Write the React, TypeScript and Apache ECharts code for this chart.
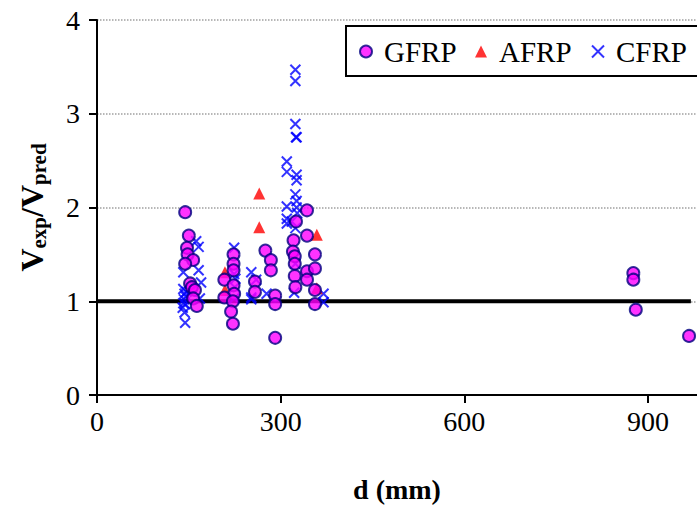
import { useEffect, useRef } from 'react';
import * as echarts from 'echarts';

const xTicks = [0, 300, 600, 900];
const yTicks = [0, 1, 2, 3, 4];

const gfrpD = [144, 150, 147, 148, 157, 144, 152, 155, 160, 157, 163,
  223, 223, 223, 208, 223, 224, 208, 222, 219, 222,
  275, 284, 284, 258, 258, 291, 291, 291,
  325, 343, 321, 343, 320, 323, 323, 323, 343, 343, 324, 356, 356, 356, 356,
  876, 876, 880, 967];
const gfrpV = [1.95, 1.70, 1.57, 1.50, 1.44, 1.40, 1.19, 1.15, 1.12, 1.03, 0.95,
  1.50, 1.40, 1.33, 1.23, 1.17, 1.08, 1.04, 1.00, 0.89, 0.76,
  1.54, 1.44, 1.33, 1.21, 1.10, 1.06, 0.97, 0.61,
  1.85, 1.97, 1.65, 1.70, 1.53, 1.48, 1.40, 1.27, 1.32, 1.23, 1.15, 1.50, 1.35, 1.12, 0.97,
  1.30, 1.23, 0.91, 0.63];

const afrpD = [265, 265, 359, 209, 209, 359];
const afrpV = [2.15, 1.79, 1.71, 1.31, 1.12, 1.14];

const cfrpD = [324, 324, 324, 325, 326,
  310, 310, 326, 326, 324, 326, 310, 326, 327, 310, 318, 310, 324, 324, 322,
  162, 166, 141, 166, 170, 141, 143, 145, 142, 144, 140, 144, 168, 146, 141, 143,
  224, 224, 226, 225, 224, 252, 260, 252, 252, 277, 370, 370];
const cfrpV = [3.47, 3.35, 2.89, 2.75, 2.75,
  2.49, 2.38, 2.35, 2.29, 2.14, 2.07, 2.01, 2.00, 1.94, 1.88, 1.85, 1.83, 1.78, 1.40, 1.09,
  1.64, 1.58, 1.31, 1.33, 1.20, 1.13, 1.08, 1.05, 1.02, 0.97, 0.93, 0.77, 1.03, 1.10, 0.98, 0.88,
  1.57, 1.29, 1.24, 1.15, 1.03, 1.31, 1.23, 1.04, 1.02, 1.08, 1.08, 0.99];

const refLineD = [0, 970];
const refLineV = [1, 1];

const zip = (a: number[], b: number[]) => a.map((v, i) => [v, b[i]]);

const FONT = "'Liberation Serif', 'Times New Roman', Times, serif";
const CROSS = 'path://M0,0L10,10M0,10L10,0';

const legendText = { fontFamily: FONT, fontSize: 29, color: '#000', padding: [0, 0, 0, 7] };
const legendBase = {
  top: 37,
  padding: 0,
  itemWidth: 12,
  itemHeight: 12,
  z: 6,
  textStyle: legendText,
};

export default function App() {
  const ref = useRef<HTMLDivElement>(null);
  useEffect(() => {
    const chart = echarts.init(ref.current!, null, { renderer: 'svg' });
    chart.setOption({
      animation: false,
      backgroundColor: '#ffffff',
      grid: { left: 97, top: 20, bottom: 108, right: 0, containLabel: false },
      graphic: [
        {
          type: 'rect',
          z: 2,
          shape: { x: 346, y: 26, width: 400, height: 50 },
          style: { fill: '#fff', stroke: '#000', lineWidth: 2 },
        },
      ],
      legend: [
        { ...legendBase, left: 359, data: [{ name: 'GFRP', icon: 'circle' }] },
        { ...legendBase, left: 475, data: [{ name: 'AFRP', icon: 'triangle' }] },
        { ...legendBase, left: 591, data: [{ name: 'CFRP', icon: CROSS }] },
      ],
      xAxis: {
        type: 'value',
        min: 0,
        max: 980,
        interval: 300,
        name: 'd (mm)',
        nameLocation: 'middle',
        nameGap: 80,
        nameTextStyle: { fontFamily: FONT, fontSize: 28, fontWeight: 'bold', color: '#000' },
        axisLine: { show: true, lineStyle: { color: '#000', width: 2 } },
        axisTick: { show: true, inside: false, length: 8, lineStyle: { color: '#000', width: 2 } },
        axisLabel: {
          fontFamily: FONT, fontSize: 28, color: '#000', margin: 12, showMaxLabel: false,
          formatter: (v: number) => (xTicks.includes(v) ? String(v) : ''),
        },
        splitLine: { show: false },
      },
      yAxis: {
        type: 'value',
        min: 0,
        max: 4,
        interval: 1,
        name: '{b|V}{s|exp}{b|/V}{s|pred}',
        nameLocation: 'middle',
        nameGap: 48,
        nameTextStyle: {
          rich: {
            b: { fontFamily: FONT, fontSize: 32, fontWeight: 'bold', color: '#000' },
            s: { fontFamily: FONT, fontSize: 21, fontWeight: 'bold', color: '#000', padding: [13, 0, 0, 0] },
          },
        },
        axisLine: { show: true, lineStyle: { color: '#000', width: 2 } },
        axisTick: { show: true, inside: false, length: 8, lineStyle: { color: '#000', width: 2 } },
        axisLabel: {
          fontFamily: FONT, fontSize: 28, color: '#000', margin: 17,
          formatter: (v: number) => (yTicks.includes(v) ? String(v) : ''),
        },
        splitLine: { show: true, lineStyle: { color: '#a0a0a0', width: 1.5, type: 'dotted' } },
      },
      series: [
        {
          type: 'line',
          name: 'ref',
          data: zip(refLineD, refLineV),
          symbol: 'none',
          lineStyle: { color: '#000', width: 4 },
          silent: true,
          z: 1,
        },
        {
          type: 'scatter',
          name: 'CFRP',
          data: zip(cfrpD, cfrpV),
          symbol: CROSS,
          symbolSize: 10,
          itemStyle: { color: '#0000ff', borderColor: '#0000ff', borderWidth: 2 },
          z: 3,
        },
        {
          type: 'scatter',
          name: 'AFRP',
          data: zip(afrpD, afrpV),
          symbol: 'triangle',
          symbolSize: 12,
          itemStyle: { color: '#ff0000' },
          z: 4,
        },
        {
          type: 'scatter',
          name: 'GFRP',
          data: zip(gfrpD, gfrpV),
          symbol: 'circle',
          symbolSize: 12,
          itemStyle: { color: '#ff00ff', borderColor: '#000080', borderWidth: 2 },
          z: 5,
        },
      ],
    });
    return () => chart.dispose();
  }, []);
  return <div ref={ref} style={{ position: 'absolute', left: 0, top: 0, width: 697, height: 508 }} />;
}
